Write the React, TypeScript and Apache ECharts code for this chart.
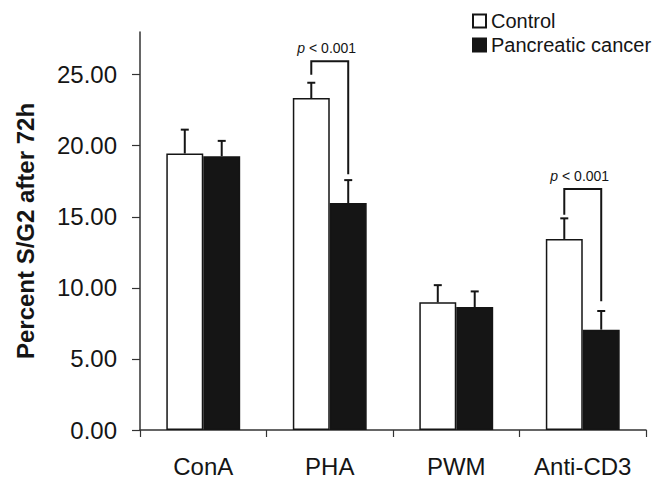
import React, { useEffect, useRef } from "react";
import * as echarts from "echarts";

const categories = ["ConA", "PHA", "PWM", "Anti-CD3"];
const controlValues = [19.45, 23.35, 8.98, 13.44];
const cancerValues = [19.26, 15.97, 8.65, 7.06];
const controlErrors = [1.68, 1.08, 1.21, 1.45];
const cancerErrors = [1.08, 1.61, 1.1, 1.31];
const yTicks = [0, 5, 10, 15, 20, 25];

const sigCategories = [1, 3];
const sigTop = [25.95, 16.95];
const sigLeftEnd = [25.0, 15.15];
const sigRightEnd = [18.0, 9.05];
const sigLabels = ["p < 0.001", "p < 0.001"];

const BAR_FRAC = 0.292;
const FONT = "'Liberation Sans', Arial, Helvetica, sans-serif";
const INK = "#151515";

export default function App() {
  const ref = useRef<HTMLDivElement>(null);
  useEffect(() => {
    if (!ref.current) return;
    const chart = echarts.init(ref.current, null, { renderer: "svg" });

    const errData: number[][] = [];
    categories.forEach((_, i) => {
      errData.push([i, controlValues[i], controlValues[i] + controlErrors[i], -1]);
      errData.push([i, cancerValues[i], cancerValues[i] + cancerErrors[i], 1]);
    });
    const sigData = sigCategories.map((c, i) => [c, sigTop[i], sigLeftEnd[i], sigRightEnd[i], i]);

    chart.setOption({
      animation: false,
      backgroundColor: "#ffffff",
      textStyle: { fontFamily: FONT, color: INK },
      grid: { left: 140, right: 8, top: 32, bottom: 49, containLabel: false, outerBoundsMode: "none" },
      legend: {
        orient: "vertical",
        left: 472,
        top: 11,
        padding: 0,
        itemWidth: 13,
        itemHeight: 13,
        itemGap: 4,
        icon: "rect",
        data: ["Control", "Pancreatic cancer"],
        textStyle: { fontSize: 20, color: INK, fontFamily: FONT, padding: [0, 0, 0, 0] },
      },
      xAxis: {
        type: "category",
        data: categories,
        boundaryGap: true,
        axisLine: { lineStyle: { color: "#333", width: 1.5 } },
        axisTick: { show: true, length: 7, lineStyle: { color: "#333", width: 1.2 } },
        axisLabel: { fontSize: 24, color: INK, margin: 24, fontFamily: FONT, interval: 0 },
      },
      yAxis: {
        type: "value",
        min: 0,
        max: 28,
        interval: 5,
        name: "Percent S/G2 after 72h",
        nameLocation: "middle",
        nameGap: 103,
        nameTextStyle: { fontSize: 24, fontWeight: "bold", color: INK, fontFamily: FONT },
        axisLine: { show: true, lineStyle: { color: "#333", width: 1.5 } },
        axisTick: { show: true, length: 8, lineStyle: { color: "#333", width: 1.2 }, customValues: yTicks },
        axisLabel: {
          fontSize: 24,
          color: INK,
          margin: 23,
          fontFamily: FONT,
          customValues: yTicks,
          formatter: (v: number) => v.toFixed(2),
        },
        splitLine: { show: false },
      },
      series: [
        {
          name: "Control",
          type: "bar",
          data: controlValues,
          barWidth: BAR_FRAC * 100 + "%",
          barGap: "0%",
          itemStyle: { color: "#ffffff", borderColor: INK, borderWidth: 1.5 },
        },
        {
          name: "Pancreatic cancer",
          type: "bar",
          data: cancerValues,
          barWidth: BAR_FRAC * 100 + "%",
          barGap: "0%",
          itemStyle: { color: INK, borderColor: INK, borderWidth: 1.5 },
        },
        {
          type: "custom",
          z: 5,
          silent: true,
          data: errData,
          renderItem: (params: any, api: any) => {
            const cat = api.value(0);
            const v = api.value(1);
            const hi = api.value(2);
            const side = api.value(3);
            const band = api.size([1, 0])[0];
            const bw = band * BAR_FRAC;
            const p0 = api.coord([cat, v]);
            const p1 = api.coord([cat, hi]);
            const x = p0[0] + (side * bw) / 2;
            const style = { stroke: INK, lineWidth: 2, fill: null };
            return {
              type: "group",
              children: [
                { type: "line", shape: { x1: x, y1: p0[1], x2: x, y2: p1[1] }, style },
                { type: "line", shape: { x1: x - 4, y1: p1[1], x2: x + 4, y2: p1[1] }, style },
              ],
            };
          },
        },
        {
          type: "custom",
          z: 6,
          silent: true,
          data: sigData,
          renderItem: (params: any, api: any) => {
            const cat = api.value(0);
            const top = api.value(1);
            const le = api.value(2);
            const re = api.value(3);
            const idx = api.value(4);
            const band = api.size([1, 0])[0];
            const bw = band * BAR_FRAC;
            const cx = api.coord([cat, top])[0];
            const xl = cx - bw / 2;
            const xr = cx + bw / 2;
            const yt = api.coord([cat, top])[1];
            const yl = api.coord([cat, le])[1];
            const yr = api.coord([cat, re])[1];
            return {
              type: "group",
              children: [
                {
                  type: "polyline",
                  shape: { points: [[xl, yl], [xl, yt], [xr, yt], [xr, yr]] },
                  style: { stroke: INK, lineWidth: 2, fill: null },
                },
                {
                  type: "text",
                  x: cx - 3,
                  y: yt - 13,
                  style: {
                    text: "{i|p}{n|" + sigLabels[idx].slice(1) + "}",
                    align: "center",
                    verticalAlign: "middle",
                    rich: {
                      i: { fontStyle: "italic", fontSize: 14, fontFamily: FONT, fill: INK },
                      n: { fontSize: 14, fontFamily: FONT, fill: INK },
                    },
                  },
                },
              ],
            };
          },
        },
      ],
    });
    return () => chart.dispose();
  }, []);
  return <div ref={ref} style={{ width: 654, height: 479, position: "absolute", left: 0, top: 0 }} />;
}
